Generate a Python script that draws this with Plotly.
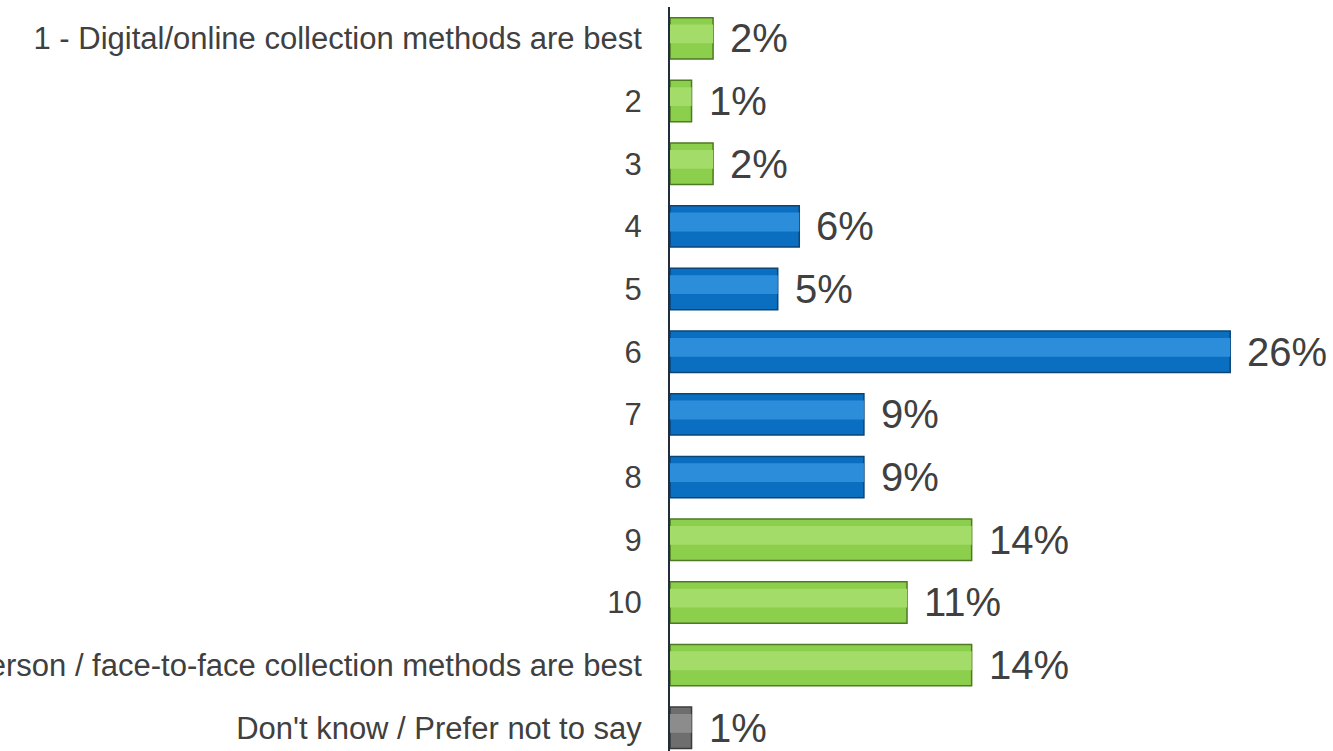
import plotly.graph_objects as go

# Survey responses: preference scale from digital (1) to in-person (11)
categories = [
    "1 - Digital/online collection methods are best",
    "2",
    "3",
    "4",
    "5",
    "6",
    "7",
    "8",
    "9",
    "10",
    "11 - In-person / face-to-face collection methods are best",
    "Don't know / Prefer not to say",
]
values = [2, 1, 2, 6, 5, 26, 9, 9, 14, 11, 14, 1]
groups = ["green", "green", "green", "blue", "blue", "blue", "blue", "blue",
          "green", "green", "green", "grey"]

palette = {
    "green": {"fill": "#8ccf4c", "edge": "#4d7a22", "light": "#a3dc68"},
    "blue": {"fill": "#0a6fc0", "edge": "#0b4577", "light": "#2c8ddb"},
    "grey": {"fill": "#6e6e6e", "edge": "#3a3a3a", "light": "#8c8c8c"},
}

fill = [palette[g]["fill"] for g in groups]
edge = [palette[g]["edge"] for g in groups]
light = [palette[g]["light"] for g in groups]

FONT = "Liberation Sans, Arial, sans-serif"

fig = go.Figure()

# Main bars with a darker outline
fig.add_trace(go.Bar(
    y=categories, x=values, orientation="h",
    marker=dict(color=fill, line=dict(color=edge, width=1.5)),
    width=0.66, hoverinfo="skip", showlegend=False,
))
# Lighter inner band to give the bars a bevelled look
fig.add_trace(go.Bar(
    y=categories, x=values, orientation="h",
    marker=dict(color=light, line=dict(width=0)),
    width=0.3, offset=-0.22, hoverinfo="skip", showlegend=False,
))

# Percentage labels just past the end of each bar (category index on y)
for i, v in enumerate(values):
    fig.add_annotation(
        x=v, y=i, xref="x", yref="y",
        text=f"{v}%", showarrow=False,
        xanchor="left", yanchor="middle", xshift=15,
        font=dict(family=FONT, size=40, color="#404040"),
    )

fig.update_layout(
    width=1333, height=751,
    margin=dict(l=670, r=0, t=7, b=0),
    paper_bgcolor="white", plot_bgcolor="white",
    barmode="overlay",
    font=dict(family=FONT, color="#404040"),
    xaxis=dict(range=[0, 30.77], visible=False, fixedrange=True),
    yaxis=dict(
        type="category",
        categoryorder="array", categoryarray=categories,
        range=[11.37, -0.5],
        showgrid=False, zeroline=False,
        showline=True, linecolor="#1f2d3d", linewidth=2,
        ticks="", ticklabelstandoff=20,
        tickfont=dict(family=FONT, size=31, color="#404040"),
        automargin=False,
    ),
)

fig.write_html("out.html")
